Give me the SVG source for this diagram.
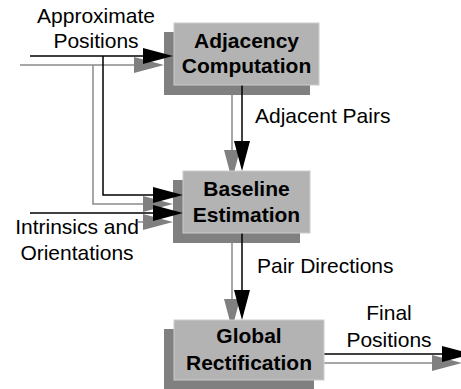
<svg xmlns="http://www.w3.org/2000/svg" width="461" height="389" viewBox="0 0 461 389">
<defs>
<style>
.t{font-family:"Liberation Sans",Arial,sans-serif;font-size:21px;fill:#000}
.b{font-family:"Liberation Sans",Arial,sans-serif;font-size:21px;font-weight:bold;fill:#000;text-anchor:middle}
.front{fill:#b3b3b3;stroke:#cccccc;stroke-width:1}
.shadow{fill:#808080}
.k{stroke:#000;stroke-width:1.5;fill:none}
.g{stroke:#8a8a8a;stroke-width:1.5;fill:none}
.ka{fill:#000}
.ga{fill:#808080}
</style>
</defs>
<rect width="461" height="389" fill="#fff"/>

<g id="connectors">
  <!-- shadow (gray) copies -->
  <g id="shadow-connectors">
    <path class="g" d="M20 65H134"/>
    <polygon class="ga" points="134,57 164,65 134,73"/>
    <path class="g" d="M93 65V204H143"/>
    <polygon class="ga" points="143,196 173,204 143,212"/>
    <path class="g" d="M138 222H143"/>
    <polygon class="ga" points="143,214 173,222 143,230"/>
    <path class="g" d="M232 95V150"/>
    <polygon class="ga" points="224,150 232,180 240,150"/>
    <path class="g" d="M232 243V299"/>
    <polygon class="ga" points="224,299 232,329 240,299"/>
    <path class="g" d="M314 363H432"/>
    <polygon class="ga" points="432,355 462,363 432,371"/>
  </g>
</g>

<g id="node-adjacency-shadow"><rect class="shadow" x="164" y="32" width="146" height="63"/></g>
<g id="node-baseline-shadow"><rect class="shadow" x="173" y="180" width="127" height="63"/></g>
<g id="node-global-shadow"><rect class="shadow" x="164" y="329" width="150" height="61"/></g>

<g id="connectors-main">
  <path class="k" d="M30 56H143"/>
  <polygon class="ka" points="143,48 173,56 143,64"/>
  <path class="k" d="M103 56V195H153"/>
  <polygon class="ka" points="153,187 183,195 153,203"/>
  <path class="k" d="M30 213H153"/>
  <polygon class="ka" points="153,205 183,213 153,221"/>
  <path class="k" d="M242 85V141"/>
  <polygon class="ka" points="234,141 242,171 250,141"/>
  <path class="k" d="M242 233V290"/>
  <polygon class="ka" points="234,290 242,320 250,290"/>
  <path class="k" d="M324 354H442"/>
  <polygon class="ka" points="442,346 472,354 442,362"/>
</g>

<g id="node-adjacency">
  <rect class="front" x="174" y="23" width="145" height="62"/>
  <text class="b" x="246.5" y="48">Adjacency</text>
  <text class="b" x="246.5" y="73">Computation</text>
</g>
<g id="node-baseline">
  <rect class="front" x="183" y="171" width="127" height="62"/>
  <text class="b" x="246.5" y="196">Baseline</text>
  <text class="b" x="246.5" y="222">Estimation</text>
</g>
<g id="node-global">
  <rect class="front" x="174" y="320" width="150" height="60"/>
  <text class="b" x="249" y="343">Global</text>
  <text class="b" x="249" y="370">Rectification</text>
</g>

<g id="labels">
  <text class="t" x="96" y="23" text-anchor="middle">Approximate</text>
  <text class="t" x="96" y="48" text-anchor="middle">Positions</text>
  <text class="t" x="255" y="123">Adjacent Pairs</text>
  <text class="t" x="77" y="234" text-anchor="middle">Intrinsics and</text>
  <text class="t" x="77" y="260" text-anchor="middle">Orientations</text>
  <text class="t" x="257" y="273">Pair Directions</text>
  <text class="t" x="389" y="320" text-anchor="middle">Final</text>
  <text class="t" x="389" y="347" text-anchor="middle">Positions</text>
</g>
</svg>
